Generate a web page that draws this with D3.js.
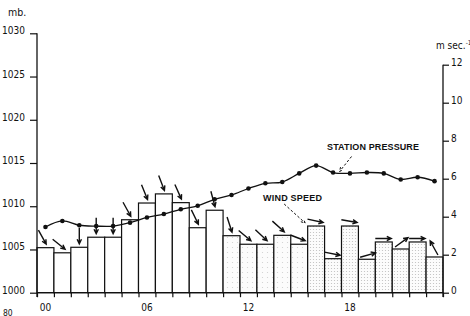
<!DOCTYPE html>
<html>
<head>
<meta charset="utf-8">
<script src="https://cdn.jsdelivr.net/npm/d3@7"></script>
<style>
body { margin: 0; background: #fff; }
text { font-family: "Liberation Sans Narrow", "DejaVu Sans Condensed", sans-serif; fill: #111; }
.note { font-family: "Liberation Sans", "DejaVu Sans", sans-serif; font-size: 9px; font-weight: bold; }
</style>
</head>
<body>
<div id="vis"></div>
<script>
// hourly values
const hours = [0, 1, 2, 3, 4, 5, 6, 7, 8, 9, 10, 11, 12, 13, 14, 15, 16, 17, 18, 19, 20, 21, 22, 23]
const hourLabels = ["00", "06", "12", "18"]
const labelHours = [0, 6, 12, 18]
// station pressure, mb
const pressure = [1007.6, 1008.3, 1007.8, 1007.7, 1007.7, 1008.1, 1008.7, 1009.1, 1009.65, 1010.05, 1010.8, 1011.3,
    1012.05, 1012.65, 1012.8, 1013.8, 1014.7, 1013.9, 1013.8, 1013.9, 1013.8, 1013.1, 1013.35, 1012.9]
// wind speed, m/s
const windSpeed = [2.37, 2.1, 2.39, 2.92, 2.92, 3.84, 4.72, 5.2, 4.74, 3.42, 4.34, 3.0,
    2.55, 2.55, 3.02, 2.55, 3.51, 1.79, 3.51, 1.76, 2.67, 2.3, 2.67, 1.88]
// direction the wind arrow points to (degrees, 0 = up, 90 = right)
const windDir = [151, 129, 180, 180, 180, 151, 158, 159, 156, 154, 165, 162,
    130, 133, 132, 111, 102, 101, 100, 74, 90, 54, 90, 331]
const pressureTicks = [1000, 1005, 1010, 1015, 1020, 1025, 1030]
const speedTicks = [0, 2, 4, 6, 8, 10, 12]

const width = 470
const height = 316
const left = 37, right = 443, base = 292.7

const svg = d3.select("#vis").append("svg")
    .attr("width", width)
    .attr("height", height)
    .style("display", "block")

svg.append("rect").attr("width", width).attr("height", height).attr("fill", "#fff")

//stipple fills for the later bars
const defs = svg.append("defs")
function stipple(id, size, col) {
    const p = defs.append("pattern").attr("id", id)
        .attr("width", size).attr("height", size)
        .attr("patternUnits", "userSpaceOnUse")
    p.append("rect").attr("width", size).attr("height", size).attr("fill", "#fcfcfc")
    p.append("circle").attr("cx", size / 2).attr("cy", size / 2).attr("r", 0.6).attr("fill", col)
}
stipple("stipDark", 3, "#bdbdbd")
stipple("stipLight", 5, "#cfcfcf")

//scales
const xBand = d3.scaleBand().domain(hours).range([left, right]).padding(0)
const xLin = d3.scaleLinear().domain([0, 24]).range([left, right])
const yP = d3.scaleLinear().domain([1000, 1030]).range([base, 33.3])
const yW = d3.scaleLinear().domain([0, 12]).range([base, 64.7])
const cx = h => xBand(h) + xBand.bandwidth() / 2

//bars
svg.append("g").selectAll("rect")
    .data(hours)
    .enter()
    .append("rect")
    .attr("x", h => xBand(h))
    .attr("y", h => yW(windSpeed[h]))
    .attr("width", xBand.bandwidth())
    .attr("height", h => base - yW(windSpeed[h]))
    .attr("fill", h => h >= 16 ? "url(#stipDark)" : (h >= 11 ? "url(#stipLight)" : "#fff"))
    .attr("stroke", "#111")
    .attr("stroke-width", 1.2)

//axes lines
svg.append("line").attr("x1", left).attr("x2", left).attr("y1", yP(1030)).attr("y2", 297)
    .attr("stroke", "#111").attr("stroke-width", 1.3)
svg.append("line").attr("x1", right).attr("x2", right).attr("y1", yW(12)).attr("y2", 297)
    .attr("stroke", "#111").attr("stroke-width", 1.3)
svg.append("line").attr("x1", left).attr("x2", right).attr("y1", base).attr("y2", base)
    .attr("stroke", "#111").attr("stroke-width", 1.3)

//left axis, labels sit on their tick
const gl = svg.append("g")
    .attr("transform", "translate(" + left + ",0)")
    .call(d3.axisLeft(yP).tickValues(pressureTicks).tickSize(7).tickFormat(d3.format("d")))
gl.select(".domain").remove()
gl.selectAll("line").attr("stroke", "#111").attr("stroke-width", 1.2)
gl.selectAll("text").attr("x", -12).attr("dy", "0.05em").attr("font-size", 10)

//right axis
const gr = svg.append("g")
    .attr("transform", "translate(" + right + ",0)")
    .call(d3.axisRight(yW).tickValues(speedTicks).tickSize(6))
gr.select(".domain").remove()
gr.selectAll("line").attr("stroke", "#111").attr("stroke-width", 1.2)
gr.selectAll("text").attr("x", 8).attr("dy", "0.05em").attr("font-size", 10)

//bottom ticks at hour boundaries
const gb = svg.append("g")
    .attr("transform", "translate(0," + base + ")")
    .call(d3.axisBottom(xLin).tickValues(hours.concat([24])).tickSize(4.5).tickFormat(""))
gb.select(".domain").remove()
gb.selectAll("line").attr("stroke", "#111").attr("stroke-width", 1.2)

svg.append("g").selectAll("text")
    .data(labelHours)
    .enter()
    .append("text")
    .attr("x", h => cx(h))
    .attr("y", 311)
    .attr("text-anchor", "middle")
    .attr("font-size", 10)
    .text((h, i) => hourLabels[i])

//unit labels
svg.append("text").attr("x", 8).attr("y", 16).attr("font-size", 10.5).text("mb.")
const unit = svg.append("text").attr("x", 436).attr("y", 49).attr("font-size", 10)
unit.append("tspan").text("m sec.")
unit.append("tspan").attr("dy", -4).attr("font-size", 6.5).text("-1")
svg.append("text").attr("x", 3).attr("y", 315.5).attr("font-size", 8.5).text("80")

//pressure curve
const line = d3.line()
    .x(h => cx(h))
    .y(h => yP(pressure[h]))
    .curve(d3.curveCatmullRom)

svg.append("path")
    .datum(hours)
    .attr("d", line)
    .attr("fill", "none")
    .attr("stroke", "#111")
    .attr("stroke-width", 1.3)

svg.append("g").selectAll("circle")
    .data(hours)
    .enter()
    .append("circle")
    .attr("cx", h => cx(h))
    .attr("cy", h => yP(pressure[h]))
    .attr("r", 2.3)
    .attr("fill", "#111")

//arrow helper: shaft plus open head
function arrowPath(x1, y1, x2, y2, barb) {
    const a = Math.atan2(y2 - y1, x2 - x1)
    const s = 0.45
    return "M" + x1 + "," + y1 + "L" + x2 + "," + y2 +
        "M" + (x2 - barb * Math.cos(a - s)) + "," + (y2 - barb * Math.sin(a - s)) +
        "L" + x2 + "," + y2 +
        "L" + (x2 - barb * Math.cos(a + s)) + "," + (y2 - barb * Math.sin(a + s))
}

//wind direction arrows above each bar
const L = 16
svg.append("g").selectAll("path")
    .data(hours)
    .enter()
    .append("path")
    .attr("d", function (h) {
        const r = windDir[h] * Math.PI / 180
        const dx = Math.sin(r), dy = -Math.cos(r)
        const top = yW(windSpeed[h])
        let hx, hy, tx, ty
        if (dy >= -0.05) {
            hx = cx(h) + 1.5 * dx + Math.max(0, dx - 0.7) * 20
            hy = top - 3.5
            tx = hx - L * dx
            ty = hy - L * dy
        } else {
            tx = cx(h) - 7 * dx
            ty = top - 2
            hx = tx + L * dx
            hy = ty + L * dy
        }
        return arrowPath(tx, ty, hx, hy, 5)
    })
    .attr("fill", "none")
    .attr("stroke", "#111")
    .attr("stroke-width", 1.4)

//annotations
svg.append("text").attr("class", "note")
    .attr("x", 327).attr("y", 150)
    .attr("textLength", 92).attr("lengthAdjust", "spacing")
    .text("STATION PRESSURE")
const spEnd = [cx(17) + 6.5, yP(pressure[17]) - 1]
svg.append("path")
    .attr("d", arrowPath(spEnd[0] + 12, spEnd[1] - 15, spEnd[0], spEnd[1], 4.5))
    .attr("fill", "none").attr("stroke", "#111").attr("stroke-width", 1)
    .attr("stroke-dasharray", "2.5,2")

svg.append("text").attr("class", "note")
    .attr("x", 263).attr("y", 201)
    .attr("textLength", 59).attr("lengthAdjust", "spacing")
    .text("WIND SPEED")
const wsEnd = [xBand(16) - 2.5, yW(windSpeed[16]) - 3]
svg.append("path")
    .attr("d", arrowPath(wsEnd[0] - 21, wsEnd[1] - 19, wsEnd[0], wsEnd[1], 4.5))
    .attr("fill", "none").attr("stroke", "#111").attr("stroke-width", 1)
    .attr("stroke-dasharray", "2.5,2")
</script>
</body>
</html>
